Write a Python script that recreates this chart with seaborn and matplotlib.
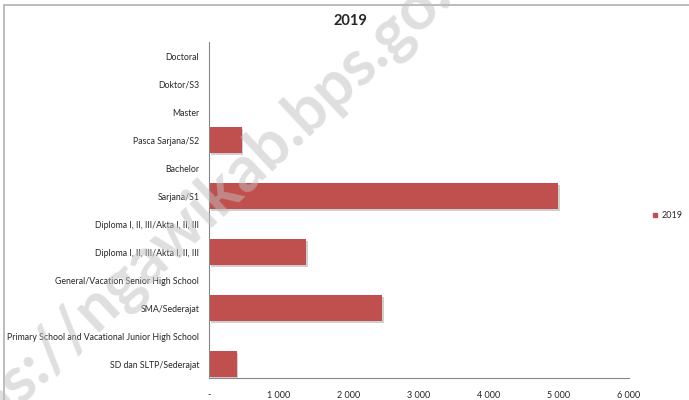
import matplotlib.pyplot as plt
import matplotlib.patheffects as pe
from matplotlib.patches import Rectangle
from matplotlib.lines import Line2D
import seaborn as sns
import pandas as pd

# categories top to bottom, as in the chart
labels = ["Doctoral", "Doktor/S3", "Master", "Pasca Sarjana/S2", "Bachelor",
          "Sarjana/S1", "Diploma I, II, III/Akta I, II, III",
          "Diploma I, II, III/Akta I, II, III",
          "General/Vacation Senior High School", "SMA/Sederajat",
          "Primary School and Vacational Junior High School",
          "SD dan SLTP/Sederajat"]
values_2019 = [0, 0, 0, 467, 0, 4990, 0, 1386, 0, 2471, 0, 395]
xticks = [0, 1000, 2000, 3000, 4000, 5000, 6000]
xticklabels = ["-", "1 000", "2 000", "3 000", "4 000", "5 000", "6 000"]

sns.set_style("white")
plt.rcParams['font.family'] = ['Lato', 'DejaVu Sans']

data = pd.DataFrame({"row": [str(i) for i in range(len(labels))],
                     "value": values_2019})

fig = plt.figure(figsize=(6.89, 4.0), dpi=100)
ax = fig.add_axes([209/689, 1-378/400, 420/689, 336/400])

red = "#C0504D"
g = sns.barplot(data=data, x="value", y="row", orient="h", color=red,
                width=0.94, saturation=1, ax=ax, edgecolor="none")
for p in g.patches:
    p.set_path_effects([pe.SimplePatchShadow(offset=(1.2, -1.2), shadow_rgbFace="#a0a0a0", alpha=0.5),
                        pe.Normal()])

ax.set_xlim(0, 6000)
ax.set_ylim(len(labels) - 0.5, -0.5)
ax.set_xticks(xticks)
ax.set_xticklabels(xticklabels, fontsize=6.5)
ax.set_yticks(range(len(labels)))
ax.set_yticklabels(labels, fontsize=6.3)
ax.set_yticks([i - 0.5 for i in range(len(labels) + 1)], minor=True)
ax.tick_params(axis='y', which='major', length=0, pad=7)
ax.tick_params(axis='y', which='minor', length=4, color='#888888', direction='out')
ax.tick_params(axis='x', which='major', length=4, color='#888888', direction='out', pad=5)
ax.set_xlabel("")
ax.set_ylabel("")
for s in ["top", "right"]:
    ax.spines[s].set_visible(False)
for s in ["left", "bottom"]:
    ax.spines[s].set_color("#888888")
    ax.spines[s].set_linewidth(0.8)

fig.text(0.508, 0.948, "2019", ha="center", va="center", fontsize=10.5, fontweight="bold")

handle = Line2D([], [], marker="s", linestyle="none", color=red, markersize=3.5)
fig.legend([handle], ["2019"], loc="center left", bbox_to_anchor=(0.947, 0.462),
           frameon=False, fontsize=6.5, handlelength=0.6, handletextpad=0.4,
           borderaxespad=0, borderpad=0)

# outer chart frame
fig.patches.append(Rectangle((4/689, -0.1), 1.2, 1 - 5/400 + 0.1, transform=fig.transFigure,
                             fill=False, edgecolor="#b0b0b0", linewidth=1.2))

# watermark
fig.text(200/689, 1-210/400, "https://ngawikab.bps.go.id", ha="center", va="center",
         rotation=43, fontsize=46, fontweight="bold", color="#c0c0c0", alpha=0.5, zorder=10)

fig.savefig("out.png", dpi=100)
